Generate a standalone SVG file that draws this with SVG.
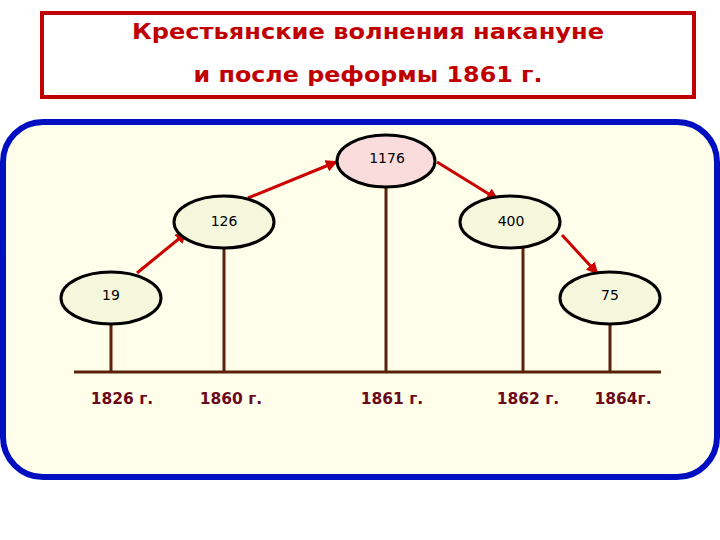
<svg xmlns="http://www.w3.org/2000/svg" width="720" height="540" viewBox="0 0 720 540">
<defs>
<marker id="ah" markerWidth="12" markerHeight="12" refX="10" refY="6" orient="auto" markerUnits="userSpaceOnUse" viewBox="0 0 12 12"><path d="M0,0 L12,6 L0,12 z" fill="#cc0000"/></marker>
<style>
.node ellipse{stroke:#000;stroke-width:3;fill:#f4f7dc}
.node text{font-family:"DejaVu Sans",sans-serif;font-size:14px;fill:#000;text-anchor:middle}
.stem{stroke:#5a2208;stroke-width:3}
.arr{stroke:#cc0000;stroke-width:3;marker-end:url(#ah)}
.yr{font-family:"DejaVu Sans",sans-serif;font-size:15.5px;font-weight:bold;fill:#6a0a1a;text-anchor:middle}
.title{font-family:"DejaVu Sans",sans-serif;font-size:22px;font-weight:bold;fill:#c00000;text-anchor:middle}
</style>
</defs>
<rect width="720" height="540" fill="#fff"/>
<g id="title">
<rect x="42" y="13" width="652" height="84" fill="#fff" stroke="#c00000" stroke-width="4"/>
<text class="title" x="368" y="39" textLength="472" lengthAdjust="spacingAndGlyphs">Крестьянские волнения накануне</text>
<text class="title" x="368" y="82" textLength="349" lengthAdjust="spacingAndGlyphs">и после реформы 1861 г.</text>
</g>
<rect id="panel" x="3" y="122" width="714" height="355" rx="40" fill="#fefeea" stroke="#0010c0" stroke-width="6"/>
<g id="connectors">
<line class="stem" x1="74" y1="372" x2="661" y2="372"/>
<line class="stem" x1="111" y1="323" x2="111" y2="372"/>
<line class="stem" x1="224" y1="248" x2="224" y2="372"/>
<line class="stem" x1="386" y1="187" x2="386" y2="372"/>
<line class="stem" x1="523" y1="248" x2="523" y2="372"/>
<line class="stem" x1="610" y1="323" x2="610" y2="372"/>
<line class="arr" x1="137" y1="273" x2="186" y2="233"/>
<line class="arr" x1="248" y1="198" x2="336" y2="162"/>
<line class="arr" x1="437" y1="162" x2="497" y2="199"/>
<line class="arr" x1="562" y1="235" x2="597" y2="273"/>
</g>
<g id="n1176" class="node"><ellipse cx="386" cy="161" rx="49" ry="26" style="fill:#fadcdc"/><text x="387" y="163">1176</text></g>
<g id="n126" class="node"><ellipse cx="224" cy="222" rx="50" ry="26"/><text x="224" y="226">126</text></g>
<g id="n400" class="node"><ellipse cx="510" cy="222" rx="50" ry="26"/><text x="511" y="226">400</text></g>
<g id="n19" class="node"><ellipse cx="111" cy="298" rx="50" ry="26"/><text x="111" y="300">19</text></g>
<g id="n75" class="node"><ellipse cx="610" cy="298" rx="50" ry="26"/><text x="610" y="300">75</text></g>
<g id="years">
<text class="yr" x="122" y="404">1826 г.</text>
<text class="yr" x="231" y="404">1860 г.</text>
<text class="yr" x="392" y="404">1861 г.</text>
<text class="yr" x="528" y="404">1862 г.</text>
<text class="yr" x="623" y="404">1864г.</text>
</g>
</svg>
